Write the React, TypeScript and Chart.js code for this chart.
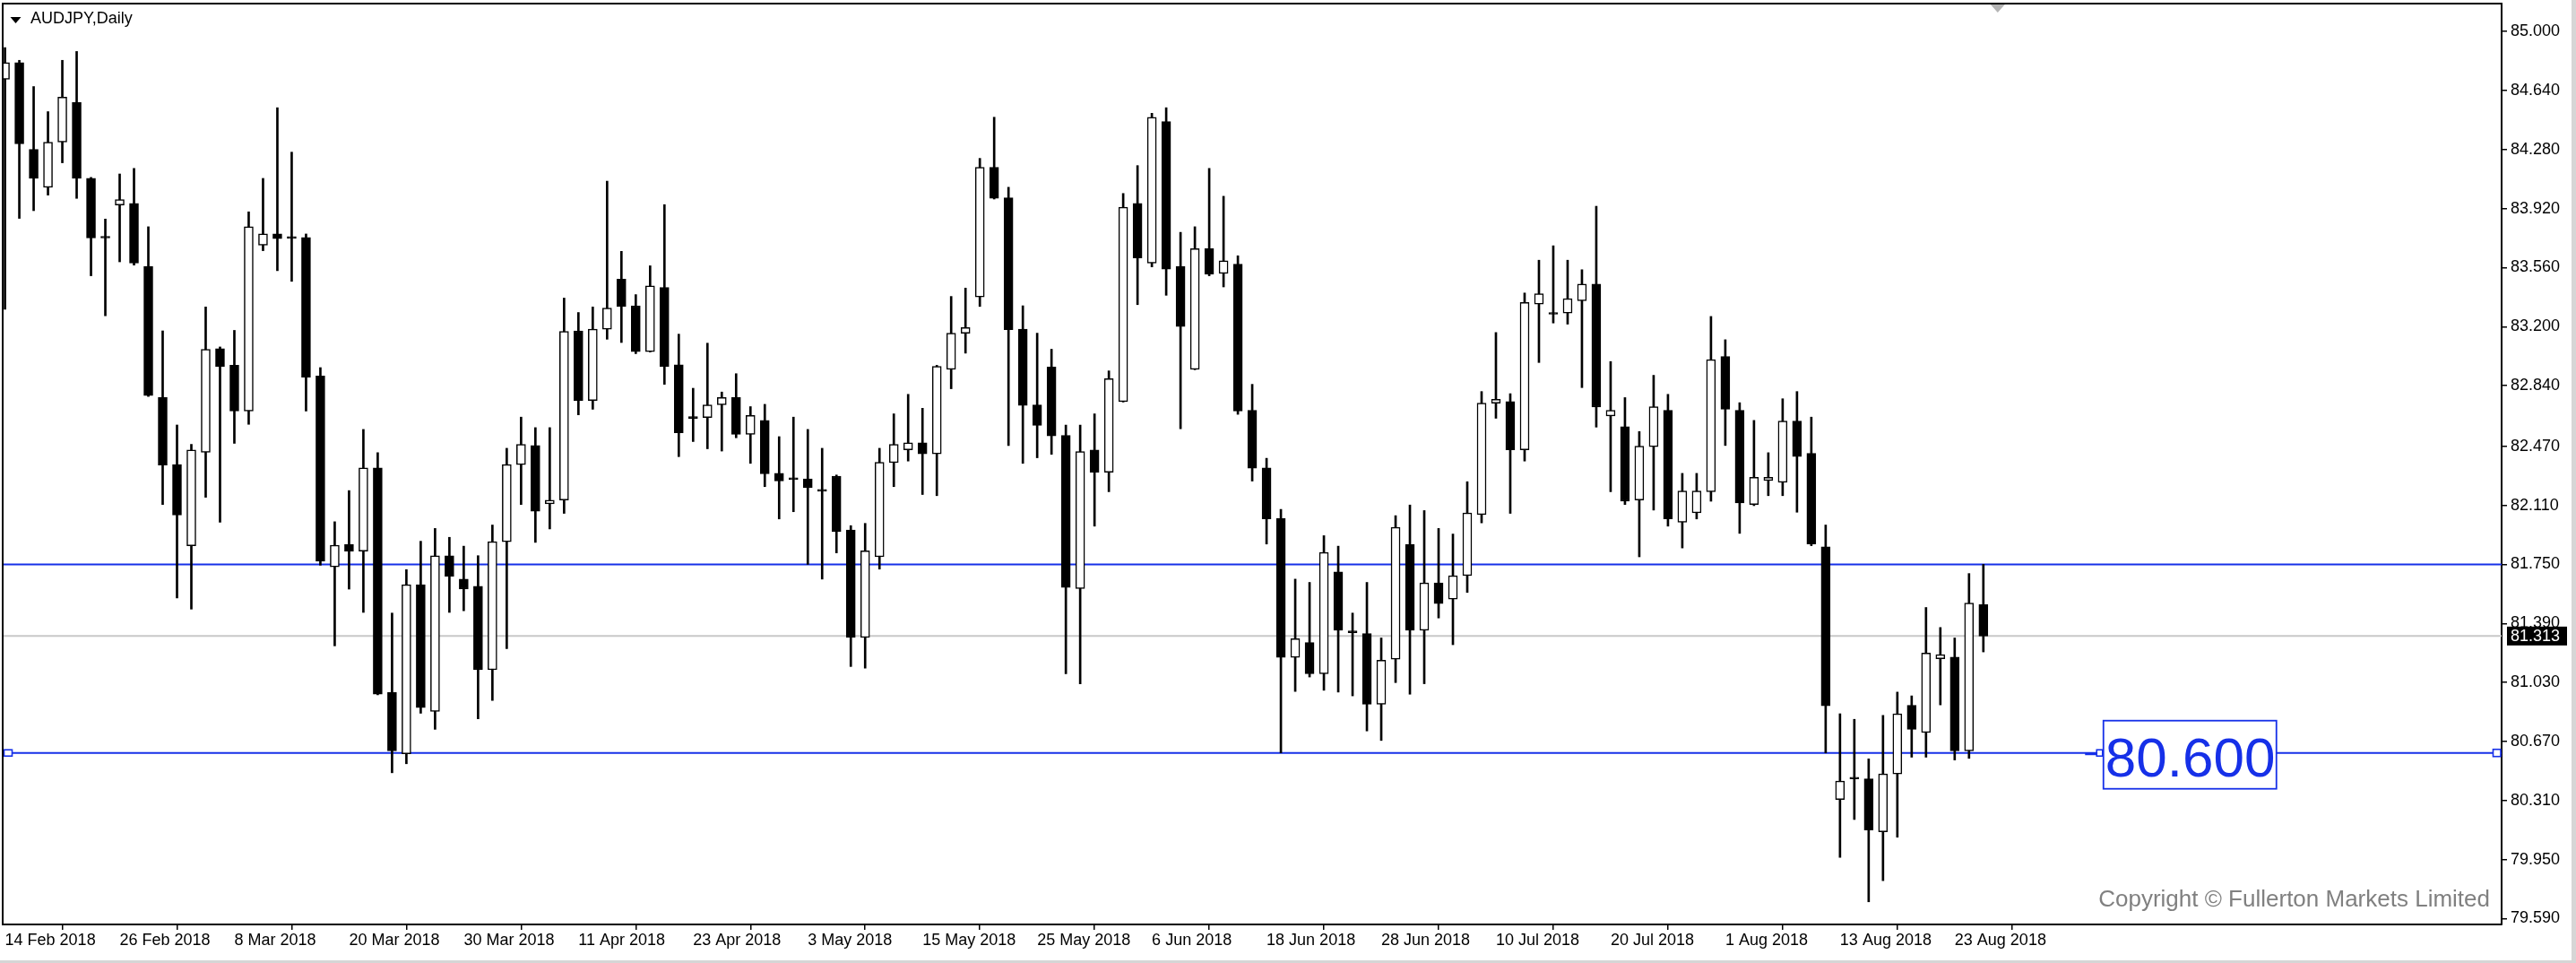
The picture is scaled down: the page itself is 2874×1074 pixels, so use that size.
import React, { useEffect, useRef } from 'react';
import { Chart, registerables } from 'chart.js';

Chart.register(...registerables);

// ---------- DATA ----------
const symbolTitle = 'AUDJPY,Daily';

const opens = [
  84.708, 84.810, 84.281, 84.050, 84.325, 84.566, 84.104, 83.745, 83.941, 83.951,
  83.568, 82.767, 82.359, 81.864, 82.434, 83.065, 82.964, 82.685, 83.697, 83.765,
  83.745, 83.744, 82.899, 81.735, 81.871, 81.830, 82.339, 80.968, 80.595, 81.626,
  80.853, 81.803, 81.660, 81.616, 81.107, 81.888, 82.359, 82.475, 82.119, 82.142,
  83.174, 82.750, 83.184, 83.490, 83.327, 83.048, 83.439, 82.967, 82.643, 82.645,
  82.723, 82.767, 82.543, 82.628, 82.305, 82.270, 82.271, 82.198, 82.288, 81.959,
  81.304, 81.796, 82.370, 82.448, 82.492, 82.424, 82.940, 83.160, 83.381, 84.172,
  83.985, 83.184, 82.723, 82.953, 82.536, 81.603, 82.448, 82.312, 82.743, 83.951,
  83.588, 84.450, 83.568, 82.940, 83.676, 83.524, 83.581, 82.689, 82.339, 82.030,
  81.182, 81.273, 81.083, 81.704, 81.336, 81.328, 80.897, 81.172, 81.871, 81.348,
  81.637, 81.538, 81.681, 82.054, 82.733, 82.743, 82.448, 83.337, 83.278, 83.283,
  83.357, 83.459, 82.655, 82.590, 82.142, 82.468, 82.689, 82.007, 82.064, 82.193,
  83.018, 82.689, 82.115, 82.261, 82.251, 82.624, 82.427, 81.857, 80.316, 80.444,
  80.442, 80.119, 80.472, 80.890, 80.724, 81.175, 81.185, 80.612, 81.504,
];

const highs = [
  84.902, 84.824, 84.664, 84.511, 84.824, 84.878, 84.110, 83.856, 84.131, 84.165,
  83.809, 83.174, 82.600, 82.482, 83.320, 83.076, 83.177, 83.900, 84.104, 84.535,
  84.264, 83.765, 82.950, 82.010, 82.200, 82.573, 82.431, 81.453, 81.718, 81.891,
  81.969, 81.915, 81.861, 81.803, 81.990, 82.458, 82.648, 82.584, 82.584, 83.374,
  83.286, 83.320, 84.087, 83.659, 83.395, 83.571, 83.944, 83.154, 82.824, 83.099,
  82.801, 82.913, 82.712, 82.726, 82.529, 82.648, 82.573, 82.458, 82.295, 81.986,
  82.000, 82.458, 82.668, 82.787, 82.702, 82.964, 83.384, 83.435, 84.226, 84.477,
  84.050, 83.327, 83.160, 83.062, 82.600, 82.600, 82.668, 82.930, 84.012, 84.182,
  84.501, 84.535, 83.775, 83.809, 84.165, 83.995, 83.632, 82.848, 82.397, 82.085,
  81.660, 81.640, 81.925, 81.861, 81.453, 81.640, 81.301, 82.047, 82.112, 82.078,
  81.969, 81.935, 82.254, 82.804, 83.164, 82.791, 83.405, 83.605, 83.693, 83.605,
  83.547, 83.934, 82.987, 82.767, 82.560, 82.903, 82.787, 82.305, 82.305, 83.262,
  83.120, 82.736, 82.628, 82.431, 82.760, 82.804, 82.648, 81.990, 80.839, 80.805,
  80.564, 80.829, 80.971, 80.948, 81.487, 81.365, 81.301, 81.694, 81.750,
];

const lows = [
  83.306, 83.860, 83.907, 84.002, 84.199, 83.982, 83.510, 83.266, 83.595, 83.575,
  82.774, 82.115, 81.545, 81.477, 82.159, 82.007, 82.488, 82.604, 83.663, 83.541,
  83.476, 82.685, 81.745, 81.253, 81.599, 81.457, 80.955, 80.479, 80.534, 80.842,
  80.744, 81.457, 81.467, 80.808, 80.920, 81.236, 82.115, 81.884, 81.966, 82.061,
  82.662, 82.696, 83.123, 83.103, 83.035, 83.045, 82.848, 82.407, 82.499, 82.455,
  82.441, 82.522, 82.366, 82.224, 82.027, 82.071, 81.750, 81.660, 81.820, 81.127,
  81.117, 81.721, 82.224, 82.380, 82.176, 82.169, 82.821, 83.038, 83.323, 83.978,
  82.475, 82.366, 82.400, 82.421, 81.083, 81.022, 81.983, 82.193, 82.740, 83.334,
  83.564, 83.391, 82.577, 82.937, 83.510, 83.442, 82.665, 82.258, 81.874, 80.600,
  80.975, 81.063, 80.982, 80.971, 80.948, 80.734, 80.676, 81.029, 80.958, 81.022,
  81.423, 81.260, 81.579, 82.003, 82.641, 82.061, 82.380, 82.981, 83.222, 83.215,
  82.828, 82.587, 82.193, 82.115, 81.796, 82.081, 81.983, 81.850, 82.027, 82.135,
  82.475, 81.939, 82.108, 82.169, 82.169, 82.068, 81.864, 80.600, 79.963, 80.194,
  79.692, 79.821, 80.086, 80.574, 80.574, 80.893, 80.557, 80.567, 81.216,
];

const closes = [
  84.810, 84.314, 84.104, 84.325, 84.599, 84.104, 83.741, 83.740, 83.975, 83.588,
  82.780, 82.356, 82.051, 82.448, 83.062, 82.957, 82.685, 83.809, 83.765, 83.737,
  83.738, 82.892, 81.769, 81.867, 81.830, 82.339, 80.958, 80.612, 81.626, 80.876,
  81.803, 81.677, 81.599, 81.107, 81.888, 82.359, 82.482, 82.074, 82.142, 83.171,
  82.750, 83.184, 83.313, 83.323, 83.048, 83.449, 82.957, 82.553, 82.640, 82.723,
  82.767, 82.543, 82.658, 82.302, 82.258, 82.267, 82.217, 82.196, 81.949, 81.304,
  81.833, 82.373, 82.482, 82.492, 82.424, 82.957, 83.160, 83.194, 84.172, 83.982,
  83.181, 82.719, 82.597, 82.533, 81.609, 82.438, 82.312, 82.882, 83.928, 83.619,
  84.477, 83.551, 83.201, 83.676, 83.520, 83.602, 82.685, 82.336, 82.027, 81.182,
  81.297, 81.083, 81.823, 81.348, 81.333, 80.897, 81.165, 81.976, 81.348, 81.637,
  81.511, 81.681, 82.064, 82.733, 82.757, 82.448, 83.347, 83.401, 83.275, 83.371,
  83.459, 82.709, 82.689, 82.135, 82.471, 82.712, 82.027, 82.197, 82.197, 82.998,
  82.696, 82.125, 82.281, 82.281, 82.624, 82.407, 81.874, 80.887, 80.428, 80.441,
  80.130, 80.472, 80.839, 80.744, 81.209, 81.199, 80.612, 81.514, 81.313,
];

const xTickIndex = [0, 8, 16, 24, 32, 40, 48, 56, 64, 72, 80, 88, 96, 104, 112, 120, 128, 136];
const xTickLabels = [
  '14 Feb 2018', '26 Feb 2018', '8 Mar 2018', '20 Mar 2018', '30 Mar 2018', '11 Apr 2018',
  '23 Apr 2018', '3 May 2018', '15 May 2018', '25 May 2018', '6 Jun 2018', '18 Jun 2018',
  '28 Jun 2018', '10 Jul 2018', '20 Jul 2018', '1 Aug 2018', '13 Aug 2018', '23 Aug 2018',
];

const yTickValues = [
  85.0, 84.64, 84.28, 83.92, 83.56, 83.2, 82.84, 82.47, 82.11, 81.75, 81.39, 81.03,
  80.67, 80.31, 79.95, 79.59,
];

const currentPrice = 81.313;
const resistanceLevel = 81.75;
const supportLevel = 80.6;
const supportLabelText = '80.600';
const supportLabelBar = 146;
const copyrightText = 'Copyright \u00A9 Fullerton Markets Limited';

// ---------- STYLE ----------
const FONT = '"Liberation Sans", Arial, sans-serif';
const BLUE = '#1630e8';
const W = 2874;
const H = 1074;

const overlayPlugin = {
  id: 'mt4Overlay',
  beforeDraw(chart: any) {
    const ctx = chart.ctx;
    ctx.save();
    ctx.fillStyle = '#ffffff';
    ctx.fillRect(0, 0, chart.width, chart.height);
    ctx.restore();
  },
  beforeDatasetsDraw(chart: any) {
    const { ctx, chartArea } = chart;
    const y = chart.scales.y;
    ctx.save();
    ctx.beginPath();
    ctx.rect(chartArea.left, chartArea.top, chartArea.right - chartArea.left, chartArea.bottom - chartArea.top);
    ctx.clip();
    // bid line
    ctx.strokeStyle = '#c8c8c8';
    ctx.lineWidth = 2;
    const yc = y.getPixelForValue(currentPrice);
    ctx.beginPath();
    ctx.moveTo(chartArea.left, yc);
    ctx.lineTo(chartArea.right, yc);
    ctx.stroke();
    // horizontal levels
    ctx.strokeStyle = BLUE;
    ctx.lineWidth = 2;
    [resistanceLevel, supportLevel].forEach((lvl) => {
      const yy = y.getPixelForValue(lvl);
      ctx.beginPath();
      ctx.moveTo(chartArea.left, yy);
      ctx.lineTo(chartArea.right, yy);
      ctx.stroke();
    });
    ctx.restore();
  },
  afterDatasetsDraw(chart: any) {
    const { ctx, chartArea } = chart;
    const xs = chart.scales.x;
    const ys = chart.scales.y;
    const yl = ys.getPixelForValue(supportLevel);
    const ax = xs.getPixelForValue(supportLabelBar);
    ctx.save();
    // anchor dash + square
    ctx.fillStyle = BLUE;
    ctx.fillRect(ax - 14.5, yl - 0.5, 13, 3);
    const square = (x0: number, y0: number, w: number, h: number) => {
      ctx.fillStyle = '#ffffff';
      ctx.fillRect(x0, y0, w, h);
      ctx.strokeStyle = BLUE;
      ctx.lineWidth = 1.6;
      ctx.strokeRect(x0, y0, w, h);
    };
    square(ax - 1.5, yl - 3.5, 6.5, 7);
    square(chartArea.left + 1.5, yl - 3.5, 9, 7);
    square(chartArea.right - 9.5, yl - 4, 8.5, 8);
    // label box
    ctx.fillStyle = '#ffffff';
    ctx.fillRect(ax + 6, yl - 36, 193, 76);
    ctx.strokeStyle = BLUE;
    ctx.lineWidth = 1.8;
    ctx.strokeRect(ax + 6, yl - 36, 193, 76);
    ctx.fillStyle = BLUE;
    ctx.font = `62px ${FONT}`;
    ctx.textAlign = 'left';
    ctx.textBaseline = 'alphabetic';
    ctx.fillText(supportLabelText, ax + 8, yl + 26.5);
    // copyright
    ctx.fillStyle = '#808080';
    ctx.font = `26px ${FONT}`;
    ctx.textAlign = 'right';
    ctx.fillText(copyrightText, chartArea.right - 13, chartArea.bottom - 20.5, 440);
    ctx.restore();
  },
  afterDraw(chart: any) {
    const { ctx, chartArea } = chart;
    const xs = chart.scales.x;
    const ys = chart.scales.y;
    ctx.save();
    // frame top / left
    ctx.strokeStyle = '#000000';
    ctx.lineWidth = 2;
    ctx.beginPath();
    ctx.moveTo(chartArea.left, chartArea.bottom);
    ctx.lineTo(chartArea.left, chartArea.top);
    ctx.lineTo(chartArea.right, chartArea.top);
    ctx.stroke();
    // chart shift marker
    const sx = xs.getPixelForValue(opens.length);
    ctx.fillStyle = '#b4b4b4';
    ctx.beginPath();
    ctx.moveTo(sx - 8, chartArea.top + 1);
    ctx.lineTo(sx + 8, chartArea.top + 1);
    ctx.lineTo(sx, chartArea.top + 10);
    ctx.closePath();
    ctx.fill();
    // title
    ctx.fillStyle = '#000000';
    ctx.beginPath();
    ctx.moveTo(11.5, 19);
    ctx.lineTo(23.5, 19);
    ctx.lineTo(17.5, 26);
    ctx.closePath();
    ctx.fill();
    ctx.font = `18px ${FONT}`;
    ctx.textAlign = 'left';
    ctx.textBaseline = 'alphabetic';
    ctx.fillText(symbolTitle, 34, 26);
    // current price box
    const yc = ys.getPixelForValue(currentPrice);
    ctx.fillStyle = '#000000';
    ctx.fillRect(chartArea.right + 6, yc - 10.5, 67, 21);
    ctx.fillStyle = '#ffffff';
    ctx.textBaseline = 'middle';
    ctx.fillText(currentPrice.toFixed(3), chartArea.right + 10, yc + 0.5);
    // window edge strips
    ctx.fillStyle = '#d6d6d6';
    ctx.fillRect(chart.width - 5, 0, 5, chart.height);
    ctx.fillRect(0, chart.height - 3, chart.width, 3);
    ctx.restore();
  },
};

export default function App() {
  const canvasRef = useRef<HTMLCanvasElement | null>(null);

  useEffect(() => {
    if (!canvasRef.current) return;
    const bodies = opens.map((o, i) => ({ x: i, y: [o, closes[i]] }));
    const wicks = lows.map((l, i) => ({ x: i, y: [l, highs[i]] }));
    const bodyFill = opens.map((o, i) => (closes[i] < o ? '#000000' : '#ffffff'));

    const chart = new Chart(canvasRef.current, {
      type: 'bar',
      data: {
        datasets: [
          {
            label: 'body',
            data: bodies as any,
            backgroundColor: bodyFill,
            borderColor: '#000000',
            borderWidth: 1.5,
            borderSkipped: false,
            barThickness: 10,
            minBarLength: 2,
            grouped: false,
            order: 0,
          } as any,
          {
            label: 'wick',
            data: wicks as any,
            backgroundColor: '#000000',
            borderWidth: 0,
            barThickness: 2,
            grouped: false,
            order: 1,
          } as any,
        ],
      },
      options: {
        animation: false,
        responsive: true,
        maintainAspectRatio: false,
        events: [],
        layout: { padding: { left: 3, top: 4, right: 0, bottom: 0 } },
        plugins: {
          legend: { display: false },
          tooltip: { enabled: false },
        },
        scales: {
          x: {
            type: 'linear',
            min: -0.16,
            max: 174.15,
            offset: false,
            grid: { display: true, drawOnChartArea: false, drawTicks: true, tickLength: 6, color: '#000000', lineWidth: 1.5 },
            border: { display: true, color: '#000000', width: 2 },
            ticks: {
              autoSkip: false,
              maxRotation: 0,
              minRotation: 0,
              align: 'start',
              padding: 1,
              color: '#000000',
              font: { size: 18, family: FONT },
              callback: (_v: any, i: number) => xTickLabels[i] ?? '',
            },
            afterBuildTicks: (s: any) => {
              s.ticks = xTickIndex.map((v) => ({ value: v }));
            },
            afterFit: (s: any) => {
              s.height = 43;
              s.paddingLeft = 0;
              s.paddingRight = 0;
            },
          } as any,
          y: {
            type: 'linear',
            position: 'right',
            min: 79.554,
            max: 85.17,
            grid: { display: true, drawOnChartArea: false, drawTicks: true, tickLength: 6, color: '#000000', lineWidth: 1.5 },
            border: { display: true, color: '#000000', width: 2 },
            ticks: {
              padding: 4,
              color: '#000000',
              font: { size: 18, family: FONT },
              callback: (v: any) => Number(v).toFixed(3),
            },
            afterBuildTicks: (s: any) => {
              s.ticks = yTickValues.map((v) => ({ value: v }));
            },
            afterFit: (s: any) => {
              s.width = 83;
              s.paddingTop = 0;
              s.paddingBottom = 0;
            },
          } as any,
        },
      },
      plugins: [overlayPlugin],
    });

    return () => {
      chart.destroy();
    };
  }, []);

  return (
    <div style={{ position: 'absolute', left: 0, top: 0, width: W, height: H, background: '#ffffff' }}>
      <canvas ref={canvasRef} />
    </div>
  );
}
